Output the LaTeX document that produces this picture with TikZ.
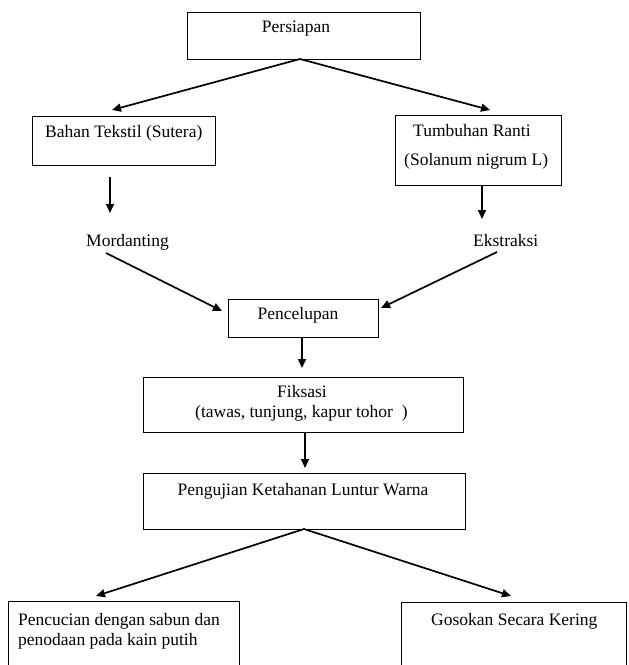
\documentclass[tikz,border=0pt]{standalone}
\usepackage{fontspec}
\setmainfont{Liberation Serif}
\usetikzlibrary{arrows.meta}
\begin{document}
\begin{tikzpicture}[x=1bp,y=-1bp,
  box/.style={draw, line width=0.9bp, rectangle, inner sep=0, outer sep=0},
  lbl/.style={anchor=base west, inner sep=0, font=\fontsize{17.5bp}{21bp}\selectfont},
  clbl/.style={lbl, anchor=base},
  arr/.style={line width=1.7bp, -{Triangle[length=9bp,width=8bp]}}]
\clip (0,0) rectangle (629,665);
\fill[white] (0,0) rectangle (629,665);
% boxes
\node[box, minimum width=233bp, minimum height=47bp] (persiapan) at (303.5,35.5) {};
\node[box, minimum width=183bp, minimum height=49bp] (bahan) at (123.5,140.5) {};
\node[box, minimum width=166bp, minimum height=70bp] (tumbuhan) at (478,150) {};
\node[box, minimum width=150bp, minimum height=38bp] (pencelupan) at (303,318) {};
\node[box, minimum width=320bp, minimum height=55bp] (fiksasi) at (303,404.5) {};
\node[box, minimum width=322bp, minimum height=56bp] (pengujian) at (304,501) {};
\node[box, minimum width=231bp, minimum height=89bp] (pencucian) at (123.5,645.5) {};
\node[box, minimum width=225bp, minimum height=88bp] (gosokan) at (513.5,646) {};
% texts
\node[clbl] (tPersiapan) at (296,33) {Persiapan};
\node[lbl] (tBahan) at (45,137) {Bahan Tekstil (Sutera)};
\node[lbl] (tTumbuhan) at (413,136) {Tumbuhan Ranti};
\node[lbl] (tSolanum) at (404,165) {(Solanum nigrum L)};
\node[lbl] (mordanting) at (86,246) {Mordanting};
\node[lbl] (ekstraksi) at (473,246) {Ekstraksi};
\node[clbl] (tPencelupan) at (298,319) {Pencelupan};
\node[clbl] (tFiksasi) at (302,397) {Fiksasi};
\node[lbl] (tTawas) at (195,417) {(tawas, tunjung, kapur tohor\ \ )};
\node[clbl] (tPengujian) at (303,495) {Pengujian Ketahanan Luntur Warna};
\node[lbl] (tPencucian1) at (18,625) {Pencucian dengan sabun dan};
\node[lbl] (tPencucian2) at (18,645) {penodaan pada kain putih};
\node[lbl] (tGosokan) at (431,625) {Gosokan Secara Kering};
% connector end points
\coordinate (pApex) at (300,59);
\coordinate (tipBahan) at (112,110);
\coordinate (tipTumbuhan) at (490,110);
\coordinate (bOut) at (110,177);
\coordinate (tipMord) at (110,213);
\coordinate (tOut) at (482,185);
\coordinate (tipEks) at (482,219);
\coordinate (mOut) at (106,253);
\coordinate (tipPencL) at (222,311);
\coordinate (eOut) at (497,252);
\coordinate (tipPencR) at (381,308);
\coordinate (pcOut) at (302,337);
\coordinate (tipFiks) at (302,368);
\coordinate (fOut) at (305,432);
\coordinate (tipPeng) at (305,468);
\coordinate (pgApex) at (304,529);
\coordinate (tipPencuc) at (96,596);
\coordinate (tipGosok) at (511,596);
% connectors
\draw[arr] (pApex) -- (tipBahan);
\draw[arr] (pApex) -- (tipTumbuhan);
\draw[arr] (bOut) -- (tipMord);
\draw[arr] (tOut) -- (tipEks);
\draw[arr] (mOut) -- (tipPencL);
\draw[arr] (eOut) -- (tipPencR);
\draw[arr] (pcOut) -- (tipFiks);
\draw[arr] (fOut) -- (tipPeng);
\draw[arr] (pgApex) -- (tipPencuc);
\draw[arr] (pgApex) -- (tipGosok);
\end{tikzpicture}
\end{document}
